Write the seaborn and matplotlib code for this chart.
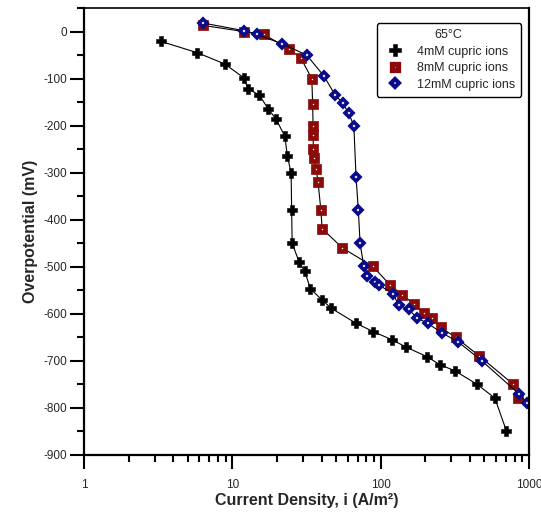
import numpy as np
import pandas as pd
import matplotlib
matplotlib.use("Agg")
import matplotlib.pyplot as plt
from matplotlib.lines import Line2D
from matplotlib.ticker import MultipleLocator, LogLocator, FixedFormatter, FixedLocator, NullFormatter
import seaborn as sns

sns.set_style("ticks")
plt.rcParams['font.family'] = ['Liberation Sans', 'DejaVu Sans']
plt.rcParams['axes.unicode_minus'] = False

# 4mM cupric ions
i_4 = [3.3, 5.8, 8.9, 11.9, 12.8, 15.2, 17.4, 19.7, 22.6, 23.5, 24.9, 25.1, 25.3,
       28.2, 30.8, 33.6, 40.1, 46.3, 68.2, 89.3, 119, 149, 205, 250, 316, 447, 588, 704]
e_4 = [-21, -45, -69, -98, -122, -135, -164, -186, -223, -265, -301, -380, -450,
       -490, -510, -547, -570, -588, -620, -638, -655, -671, -691, -708, -721, -750, -779, -849]

# 8mM cupric ions
i_8 = [6.35, 11.9, 16.3, 24.0, 28.9, 34.3, 34.8, 35.0, 35.0, 35.2, 35.7, 36.7, 37.8,
       39.5, 40.3, 55.2, 88.4, 116, 139, 167, 196, 222, 253, 321, 459, 785, 840]
e_8 = [13, 0, -6, -37, -56, -100, -155, -201, -220, -250, -269, -292, -320,
       -379, -419, -460, -499, -539, -559, -579, -599, -609, -629, -650, -689, -750, -779]

# 12mM cupric ions
i_12 = [6.35, 11.9, 14.6, 21.6, 31.7, 41.5, 49.3, 55.5, 60.9, 65.9, 68.2, 70.7, 72.6,
        76.9, 81, 91.2, 98, 121, 133, 154, 176, 207, 257, 334, 481, 854, 967]
e_12 = [18, 2, -6, -26, -50, -95, -135, -152, -174, -200, -309, -380, -450,
        -499, -519, -533, -539, -558, -582, -590, -609, -620, -640, -660, -700, -770, -789]

labels = ['4mM cupric ions', '8mM cupric ions', '12mM cupric ions']
x_ticks = [1, 10, 100, 1000]
x_ticklabels = ['1', '10', '100', '1000']

red = '#8b0a0a'
navy = '#0a0a8c'

fig = plt.figure(figsize=(5.41, 5.13), dpi=100)
ax = fig.add_axes([0.1553, 0.1131, 0.8226, 0.8713])

styles = [
    dict(marker='P', markersize=7, markerfacecolor='black', markeredgecolor='black', markeredgewidth=0.4),
    dict(marker='s', markersize=4.6, markerfacecolor='white', markeredgecolor=red, markeredgewidth=3.4),
    dict(marker='D', markersize=3.6, markerfacecolor='white', markeredgecolor=navy, markeredgewidth=2.6),
]
series = [(i_4, e_4), (i_8, e_8), (i_12, e_12)]

for (xs, ys), st in zip(series, styles):
    df = pd.DataFrame({'i': xs, 'e': ys})
    sns.lineplot(data=df, x='i', y='e', sort=False, estimator=None, ax=ax,
                 color='black', linewidth=0.8, **st)

ax.set_xscale('log')
ax.set_xlim(1, 1000)
ax.set_ylim(-900, 50)
ax.xaxis.set_major_locator(FixedLocator(x_ticks))
ax.xaxis.set_major_formatter(FixedFormatter(x_ticklabels))
ax.xaxis.set_minor_locator(LogLocator(base=10, subs=np.arange(2, 10)))
ax.xaxis.set_minor_formatter(NullFormatter())
ax.yaxis.set_major_locator(MultipleLocator(100))
ax.yaxis.set_minor_locator(MultipleLocator(50))

ax.tick_params(which='major', direction='out', length=10, width=1.5, labelsize=8.5, color='black')
ax.tick_params(which='minor', direction='out', length=5, width=1.5, color='black')
ax.tick_params(axis='x', which='major', pad=7)
ax.tick_params(axis='y', which='major', pad=2)

for s in ['left', 'bottom', 'right']:
    ax.spines[s].set_linewidth(1.6)
    ax.spines[s].set_color('black')
ax.spines['top'].set_linewidth(1.2)
ax.spines['top'].set_color('black')

ax.set_xlabel('Current Density, i (A/m²)', fontsize=11.5, fontweight='bold', labelpad=2)
ax.set_ylabel('Overpotential (mV)', fontsize=11.5, fontweight='bold', labelpad=4)

leg_styles = [
    dict(marker='P', markersize=8, markerfacecolor='black', markeredgecolor='black', markeredgewidth=0.4),
    dict(marker='s', markersize=5, markerfacecolor='white', markeredgecolor=red, markeredgewidth=3.8),
    dict(marker='D', markersize=4.2, markerfacecolor='white', markeredgecolor=navy, markeredgewidth=3.0),
]
handles = [Line2D([], [], linestyle='none', **st) for st in leg_styles]
leg = ax.legend(handles, labels, title='65°C', loc='upper right',
                bbox_to_anchor=(0.982, 0.966), borderaxespad=0, fontsize=9, title_fontsize=9,
                frameon=True, fancybox=True, edgecolor='black', framealpha=1,
                handletextpad=0.7, borderpad=0.5, labelspacing=0.35, handlelength=2.0)
leg.get_frame().set_linewidth(1.0)

fig.savefig('out.png', dpi=100)
